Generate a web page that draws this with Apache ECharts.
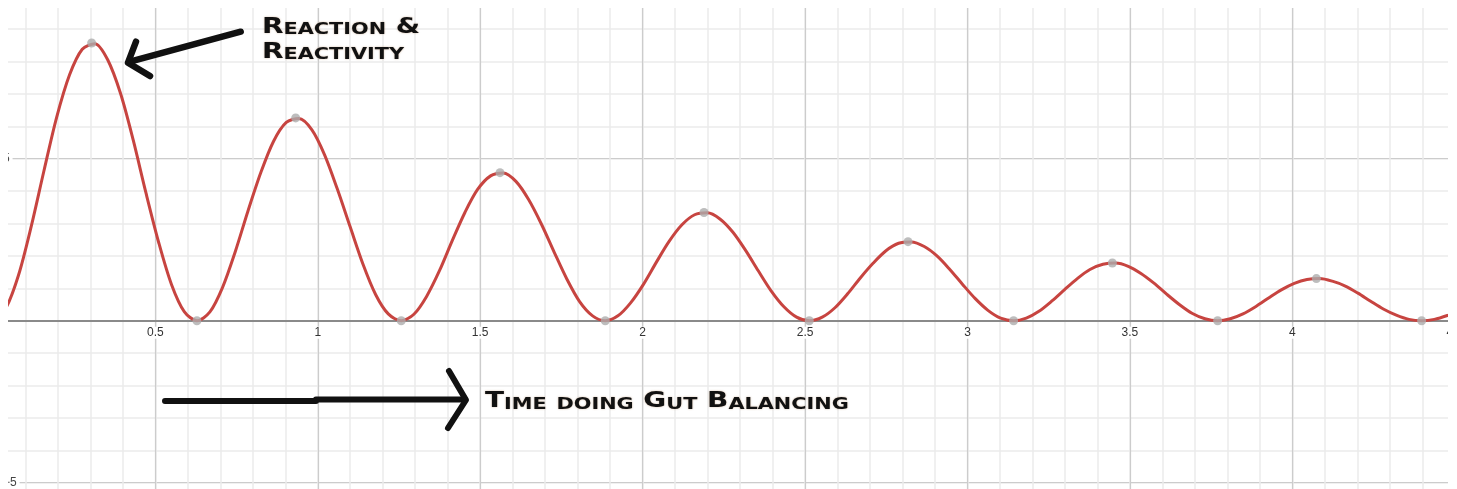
<!DOCTYPE html>
<html>
<head>
<meta charset="utf-8">
<script src="https://cdn.jsdelivr.net/npm/echarts@6/dist/echarts.min.js"></script>
<style>
  html, body { margin: 0; padding: 0; background: #fff; }
  #chart { position: absolute; left: 8px; top: 8px; width: 1440px; height: 481px; }
</style>
</head>
<body>
<div id="chart"></div>
<script>
// curve samples
const curveX = [
  0, 0.039, 0.079, 0.118, 0.157, 0.196, 0.236, 0.275, 0.314, 0.353, 0.393, 0.432, 0.471, 0.511, 0.550, 0.589,
  0.628, 0.668, 0.707, 0.746, 0.785, 0.825, 0.864, 0.903, 0.942, 0.982, 1.021, 1.060, 1.100, 1.139, 1.178, 1.217,
  1.257, 1.296, 1.335, 1.375, 1.414, 1.453, 1.492, 1.532, 1.571, 1.610, 1.649, 1.689, 1.728, 1.767, 1.806, 1.846,
  1.885, 1.924, 1.963, 2.003, 2.042, 2.081, 2.121, 2.160, 2.199, 2.238, 2.278, 2.317, 2.356, 2.395, 2.435, 2.474,
  2.513, 2.553, 2.592, 2.631, 2.670, 2.710, 2.749, 2.788, 2.827, 2.867, 2.906, 2.945, 2.985, 3.024, 3.063, 3.102,
  3.142, 3.181, 3.220, 3.260, 3.299, 3.338, 3.377, 3.417, 3.456, 3.495, 3.534, 3.574, 3.613, 3.652, 3.691, 3.731,
  3.770, 3.809, 3.848, 3.888, 3.927, 3.966, 4.006, 4.045, 4.084, 4.123, 4.163, 4.202, 4.241, 4.280, 4.320, 4.359,
  4.398, 4.437, 4.477, 4.516, 4.555];
const curveY = [
  0, 0.37, 1.41, 2.91, 4.62, 6.27, 7.59, 8.38, 8.55, 8.06, 7.01, 5.57, 3.95, 2.39, 1.11, 0.28,
  0, 0.27, 1.03, 2.13, 3.38, 4.58, 5.54, 6.12, 6.24, 5.89, 5.12, 4.07, 2.89, 1.75, 0.81, 0.21,
  0, 0.20, 0.75, 1.55, 2.47, 3.34, 4.05, 4.47, 4.56, 4.30, 3.74, 2.97, 2.11, 1.28, 0.59, 0.15,
  0, 0.15, 0.55, 1.13, 1.80, 2.44, 2.96, 3.27, 3.33, 3.14, 2.73, 2.17, 1.54, 0.93, 0.43, 0.11,
  0, 0.11, 0.40, 0.83, 1.32, 1.78, 2.16, 2.39, 2.43, 2.29, 2.00, 1.59, 1.12, 0.68, 0.32, 0.08,
  0, 0.08, 0.29, 0.61, 0.96, 1.30, 1.58, 1.74, 1.78, 1.68, 1.46, 1.16, 0.82, 0.50, 0.23, 0.06,
  0, 0.06, 0.21, 0.44, 0.70, 0.95, 1.15, 1.27, 1.30, 1.22, 1.07, 0.85, 0.60, 0.36, 0.17, 0.04,
  0, 0.04, 0.16, 0.32, 0.51];

// grey dots on peaks and troughs
const dotX = [0, 0.304, 0.628, 0.932, 1.257, 1.561, 1.885, 2.189, 2.513,
  2.817, 3.142, 3.446, 3.770, 4.074, 4.398];
const dotY = [0, 8.57, 0, 6.26, 0, 4.57, 0, 3.34, 0, 2.44, 0, 1.78, 0, 1.30, 0];

// annotation texts
const noteTop = ['Reaction &', 'Reactivity'];
const noteBottom = 'Time doing Gut Balancing';

const FONT = '"DejaVu Sans", sans-serif';
const INK = '#111';

// fake small caps: capitals big, lower case letters as smaller capitals
function smallCaps(str) {
  return str.replace(/([A-Z&])|([a-z]+)|( +)/g, (m, up, low, sp) => {
    if (up) return '{b|' + up + '}';
    if (low) return '{s|' + low.toUpperCase() + '}';
    return '{b|' + sp + '}';
  });
}

const richStyle = {
  b: { fontFamily: FONT, fontWeight: 'bold', fontSize: 21.5, lineHeight: 25,
       verticalAlign: 'bottom', fill: INK,
       textShadowColor: 'rgba(150,90,40,0.45)', textShadowBlur: 2 },
  s: { fontFamily: FONT, fontWeight: 'bold', fontSize: 16, lineHeight: 21.7,
       verticalAlign: 'bottom', fill: INK,
       textShadowColor: 'rgba(150,90,40,0.45)', textShadowBlur: 2 }
};

const chart = echarts.init(document.getElementById('chart'), null, { renderer: 'canvas' });

const gridLine = (color, width) => ({ show: true, lineStyle: { color, width } });
const yFmt = v => (v === 0 ? '' : (v < 0 ? '\u2212' : '') + Math.abs(v));

// grid is larger than the view: x 0..5, y -10..10, zero row sits 324px above grid bottom
chart.setOption({
  animation: false,
  backgroundColor: '#fff',
  grid: {
    left: -15.1, top: -11.3, right: -169.2, bottom: -155.7,
    containLabel: false, outerBoundsMode: 'none'
  },
  xAxis: [
    { // minor grid
      type: 'value', position: 'bottom', min: 0, max: 5, interval: 0.1,
      axisLine: { show: false }, axisTick: { show: false }, axisLabel: { show: false },
      splitLine: gridLine('#ebebeb', 1.5)
    },
    { // major grid + labels, pulled up to the zero row
      type: 'value', position: 'bottom', offset: -324, min: 0, max: 5, interval: 0.5,
      axisLine: { show: true, onZero: false, lineStyle: { color: '#8a8a8a', width: 2 } },
      axisTick: { show: false },
      axisLabel: {
        show: true, margin: 6, color: '#333', fontSize: 12, fontFamily: '"Liberation Sans", Arial',
        backgroundColor: '#fff', padding: [0, 1],
        showMinLabel: false, formatter: v => (v === 0 ? '' : String(v))
      },
      splitLine: gridLine('#cccccc', 1.2)
    }
  ],
  yAxis: [
    {
      type: 'value', position: 'left', min: -10, max: 10, interval: 1,
      axisLine: { show: false }, axisTick: { show: false }, axisLabel: { show: false },
      splitLine: gridLine('#ebebeb', 1.5)
    },
    {
      type: 'value', position: 'left', min: -10, max: 10, interval: 5,
      axisLine: { show: true, onZero: true, onZeroAxisIndex: 1, lineStyle: { color: '#8a8a8a', width: 2 } },
      axisTick: { show: false },
      axisLabel: {
        show: true, inside: true, margin: 10, color: '#444', fontSize: 12,
        fontFamily: '"Liberation Sans", Arial', backgroundColor: '#fff', padding: [0, 3, 0, 0],
        formatter: yFmt
      },
      splitLine: gridLine('#cccccc', 1.2)
    }
  ],
  series: [
    {
      type: 'line', xAxisIndex: 1, yAxisIndex: 1,
      data: curveX.map((x, i) => [x, curveY[i]]),
      smooth: 0.3, showSymbol: false, symbol: 'none',
      lineStyle: { color: '#c74440', width: 3 },
      z: 3
    },
    {
      type: 'scatter', xAxisIndex: 1, yAxisIndex: 1,
      data: dotX.map((x, i) => [x, dotY[i]]),
      symbolSize: 9, itemStyle: { color: '#acacac' },
      z: 4
    }
  ],
  graphic: [
    // hand drawn arrow near the first peak
    {
      type: 'polyline', z: 10,
      shape: { points: [[232.7, 23.7], [122, 53.7]] },
      style: { stroke: INK, lineWidth: 6.5, lineCap: 'round', fill: null }
    },
    {
      type: 'polyline', z: 10,
      shape: { points: [[128, 33.7], [120, 54.7], [142, 68]] },
      style: { stroke: INK, lineWidth: 6.5, lineCap: 'round', lineJoin: 'round', fill: null }
    },
    // time arrow
    {
      type: 'polyline', z: 10,
      shape: { points: [[157, 393], [308, 393], [308, 391.5], [457, 391.5]] },
      style: { stroke: INK, lineWidth: 6, lineCap: 'round', lineJoin: 'round', fill: null }
    },
    {
      type: 'polyline', z: 10,
      shape: { points: [[441, 363], [458, 392], [440, 420]] },
      style: { stroke: INK, lineWidth: 6, lineCap: 'round', lineJoin: 'round', fill: null }
    },
    {
      type: 'text', z: 11, x: 254, y: 5, scaleX: 1.3,
      style: { text: noteTop.map(smallCaps).join('\n'), rich: richStyle }
    },
    {
      type: 'text', z: 11, x: 477, y: 379.5, scaleX: 1.3,
      style: { text: smallCaps(noteBottom), rich: richStyle }
    }
  ]
});
</script>
</body>
</html>
